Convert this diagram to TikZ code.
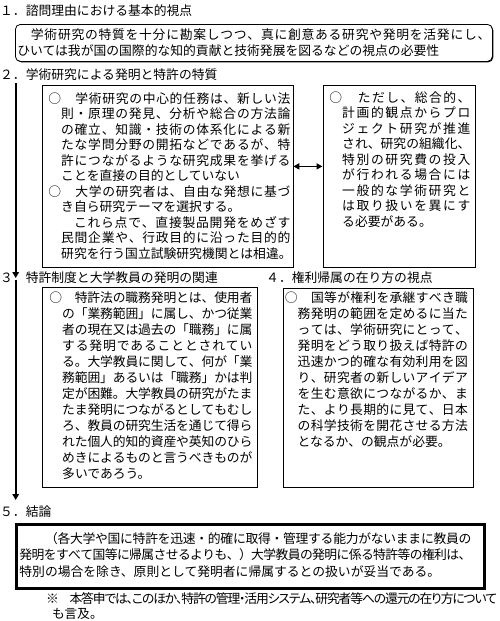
\documentclass[tikz,border=0pt]{standalone}
\usepackage{fontspec}
\setmainfont{Noto Sans CJK JP}
\newfontfamily\notefont{Noto Sans CJK JP}[RawFeature=+palt]
\usetikzlibrary{arrows.meta,shadows}

\newlength\padl
\newlength\lw
\ExplSyntaxOn
% one line stretched to the given width
\cs_new_protected:Npn \rs_spread:nn #1#2
  {
    \hbox_to_wd:nn {#1}
      { \tl_map_inline:nn {#2} { ##1 \skip_horizontal:n { 0pt~plus~1fil~minus~1.2pt } } \unskip }
  }
\NewDocumentCommand \jl { m m }
  { \par \noindent \hspace*{ \dim_eval:n { \padl + #1 } } \rs_spread:nn { \lw - #1 } {#2} }
\NewDocumentCommand \rl { m m }
  { \par \noindent \hspace*{ \dim_eval:n { \padl + #1 } } #2 }
\ExplSyntaxOff
% baselineskip, top shift, left pad, line width
\newcommand\boxfont[4]{\fontsize{12.8pt}{#1}\selectfont\setlength\padl{#3}\setlength\lw{#4}\vskip#2\relax\prevdepth=0pt\relax}

\begin{document}
\begin{tikzpicture}[x=1pt, y=-1pt,
    heading/.style={anchor=base west, inner sep=0pt, font=\fontsize{12.8pt}{16pt}\selectfont},
    panel/.style={draw, line width=0.8pt, fill=white, inner sep=0pt, anchor=north west,
        drop shadow={shadow xshift=0.9pt, shadow yshift=-0.9pt, fill=black, opacity=1}},
    verdict/.style={draw, line width=2.8pt, fill=white, inner sep=0pt, anchor=north west},
    spine/.style={line width=2.2pt, -{Triangle[width=6.5pt,length=6pt]}},
    link/.style={line width=1.8pt, {Triangle[width=6pt,length=6pt]}-{Triangle[width=6pt,length=6pt]}}]
    \fill[white] (0,0) rectangle (500,621);
    \useasboundingbox (0,0) rectangle (500,621);

    % 1. Headings
    \node[heading] (sec1) at (0,15.9) {１．諮問理由における基本的視点};
    \node[heading] (sec2) at (0,79.9) {２．学術研究による発明と特許の特質};
    \node[heading] (sec3) at (0,282.9) {３．特許制度と大学教員の発明の関連};
    \node[heading] (sec4) at (266,282.9) {４．権利帰属の在り方の視点};
    \node[heading] (sec5) at (0,516.9) {５．結論};

    % 2. Viewpoint box
    \node[panel, rounded corners=5pt] (viewbox) at (15,24) {\parbox[c][37pt][t]{477pt}{\boxfont{16pt}{-1.1pt}{2pt}{473pt}
        \jl{0em}{　学術研究の特質を十分に勘案しつつ、真に創意ある研究や発明を活発にし、}
        \rl{0em}{ひいては我が国の国際的な知的貢献と技術発展を図るなどの視点の必要性}}};

    % 3. Nature of academic research
    \node[panel] (missionbox) at (42,85) {\parbox[c][182pt][t]{250.5pt}{\boxfont{15.5pt}{2.4pt}{6pt}{242pt}
        \jl{0em}{○　学術研究の中心的任務は、新しい法}
        \jl{1em}{則・原理の発見、分析や総合の方法論}
        \jl{1em}{の確立、知識・技術の体系化による新}
        \jl{1em}{たな学問分野の開拓などであるが、特}
        \jl{1em}{許につながるような研究成果を挙げる}
        \rl{1em}{ことを直接の目的としていない}
        \jl{0em}{○　大学の研究者は、自由な発想に基づ}
        \rl{1em}{き自ら研究テーマを選択する。}
        \jl{2em}{これら点で、直接製品開発をめざす}
        \jl{1em}{民間企業や、行政目的に沿った目的的}
        \rl{1em}{研究を行う国立試験研究機関とは相違。}}};
    \node[panel] (projectbox) at (322.5,85) {\parbox[c][182pt][t]{152.5pt}{\boxfont{15.5pt}{1.4pt}{6.5pt}{141pt}
        \jl{0em}{○　ただし、総合的、}
        \jl{1em}{計画的観点からプロ}
        \jl{1em}{ジェクト研究が推進}
        \jl{1em}{され、研究の組織化、}
        \jl{1em}{特別の研究費の投入}
        \jl{1em}{が行われる場合には}
        \jl{1em}{一般的な学術研究と}
        \jl{1em}{は取り扱いを異にす}
        \rl{1em}{る必要がある。}}};
    \draw[link] ([yshift=10pt]missionbox.east) -- ([yshift=10pt]projectbox.west);

    % 4. Patent system and ownership
    \node[panel] (dutybox) at (42,287) {\parbox[c][200pt][t]{215pt}{\boxfont{16pt}{-1.1pt}{7pt}{203pt}
        \jl{0em}{○　特許法の職務発明とは、使用者}
        \jl{1em}{の「業務範囲」に属し、かつ従業}
        \jl{1em}{者の現在又は過去の「職務」に属}
        \jl{1em}{する発明であることとされてい}
        \jl{1em}{る。大学教員に関して、何が「業}
        \jl{1em}{務範囲」あるいは「職務」かは判}
        \jl{1em}{定が困難。大学教員の研究がたま}
        \jl{1em}{たま発明につながるとしてもむし}
        \jl{1em}{ろ、教員の研究生活を通じて得ら}
        \jl{1em}{れた個人的知的資産や英知のひら}
        \jl{1em}{めきによるものと言うべきものが}
        \rl{1em}{多いであろう。}}};
    \node[panel] (rightsbox) at (283,288) {\parbox[c][199pt][t]{190pt}{\boxfont{16pt}{-2.1pt}{1.5pt}{183pt}
        \jl{0em}{○　国等が権利を承継すべき職}
        \jl{1em}{務発明の範囲を定めるに当た}
        \jl{1em}{っては、学術研究にとって、}
        \jl{1em}{発明をどう取り扱えば特許の}
        \jl{1em}{迅速かつ的確な有効利用を図}
        \jl{1em}{り、研究者の新しいアイデア}
        \jl{1em}{を生む意欲につながるか、ま}
        \jl{1em}{た、より長期的に見て、日本}
        \jl{1em}{の科学技術を開花させる方法}
        \rl{1em}{となるか、の観点が必要。}}};

    % 5. Conclusion and remark
    \node[verdict] (resultbox) at (15,523) {\parbox[c][64pt][t]{468pt}{\boxfont{16.5pt}{2.4pt}{3pt}{452pt}
        \jl{2em}{（各大学や国に特許を迅速・的確に取得・管理する能力がないままに教員の}
        \jl{0em}{発明をすべて国等に帰属させるよりも、）大学教員の発明に係る特許等の権利は、}
        \rl{0em}{特別の場合を除き、原則として発明者に帰属するとの扱いが妥当である。}}};
    \node[inner sep=0pt, anchor=north west] (remark) at (0,590) {\parbox[t]{500pt}{\boxfont{15pt}{-2.1pt}{46pt}{451pt}\notefont
        \jl{0pt}{※　本答申では、このほか、特許の管理・活用システム、研究者等への還元の在り方について}
        \rl{6pt}{も言及。}}};

    % 6. Flow down the page
    \coordinate (spinetop) at (15.7,83);
    \coordinate (spinemid) at (15.7,278);
    \coordinate (spinegap) at (15.7,279.5);
    \coordinate (spineend) at (15.7,500);
    \draw[spine] (spinetop) -- (spinemid);
    \draw[spine] (spinegap) -- (spineend);

\end{tikzpicture}
\end{document}
